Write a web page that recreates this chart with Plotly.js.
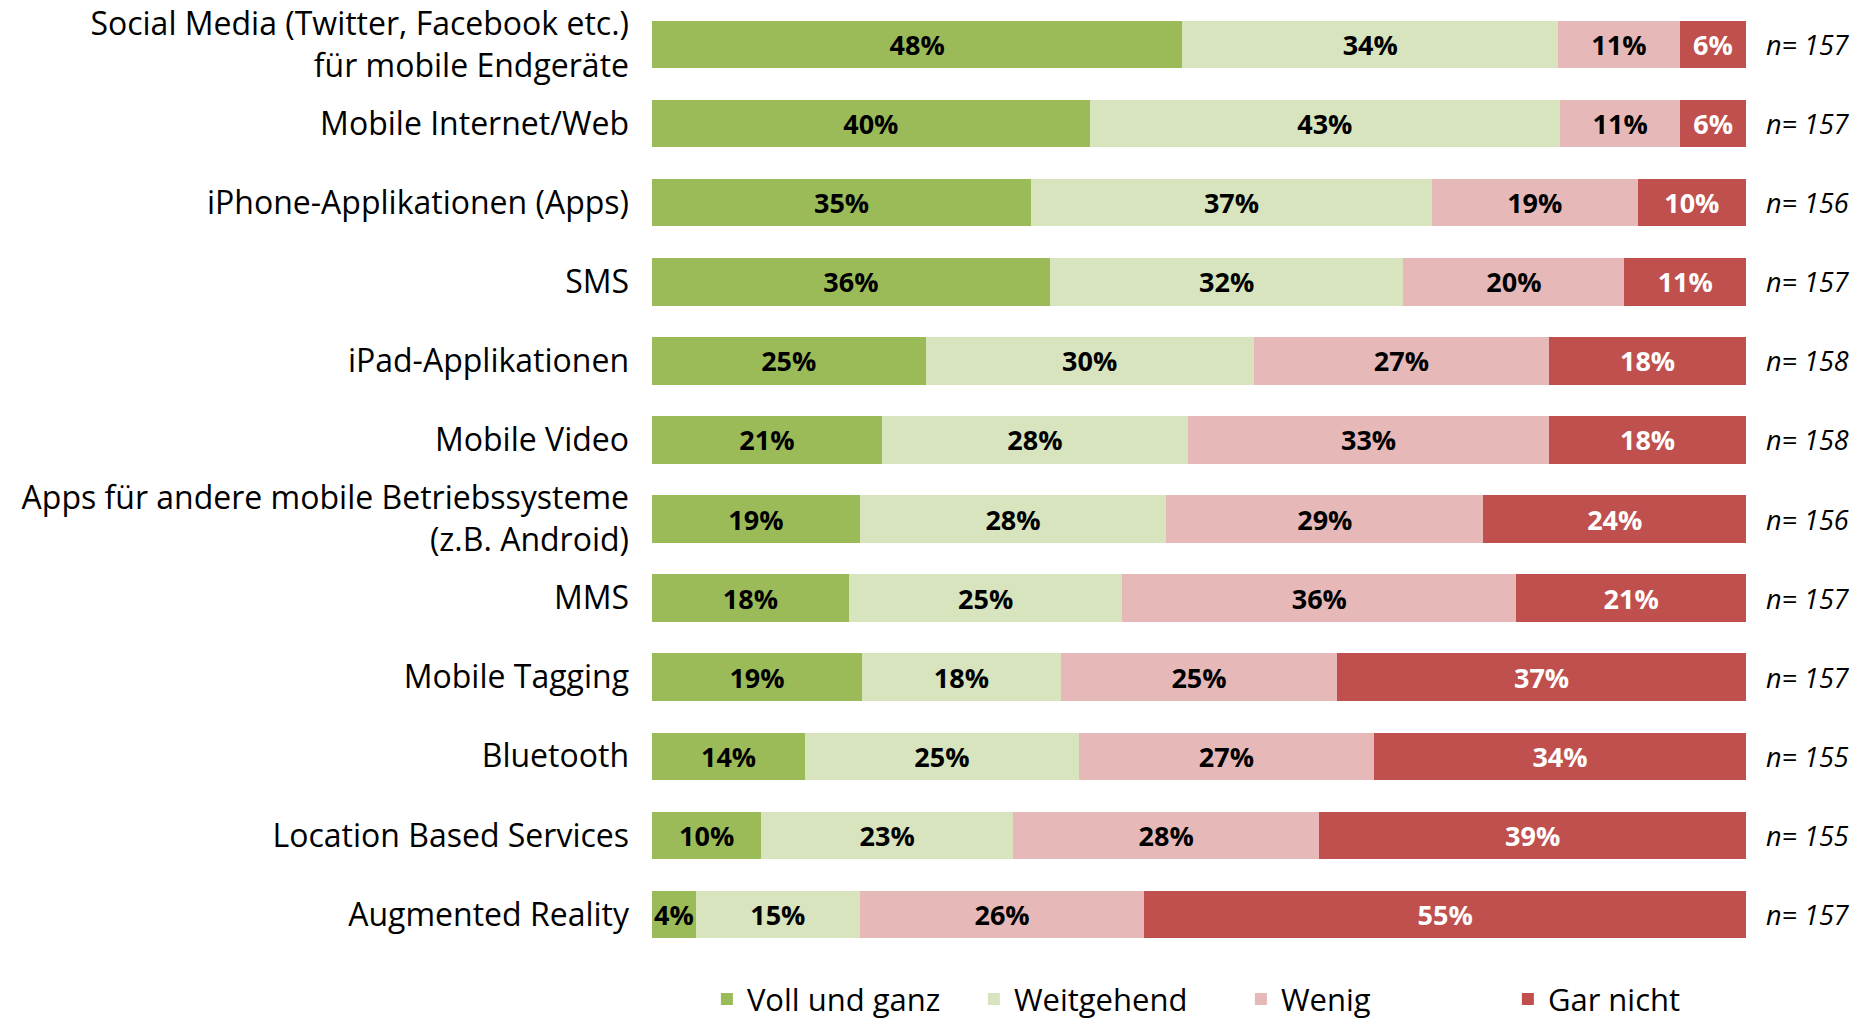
<!DOCTYPE html>
<html>
<head>
<meta charset="utf-8">
<script src="https://cdn.plot.ly/plotly-3.0.1.min.js"></script>
<style>
  html, body { margin: 0; padding: 0; background: #fff; }
  #chart { width: 1875px; height: 1024px; }
</style>
</head>
<body>
<div id="chart"></div>
<script>
document.addEventListener("DOMContentLoaded", function () {

  const categories = [
    'Social Media (Twitter, Facebook etc.)<br>für mobile Endgeräte',
    'Mobile Internet/Web',
    'iPhone-Applikationen (Apps)',
    'SMS',
    'iPad-Applikationen',
    'Mobile Video',
    'Apps für andere mobile Betriebssysteme<br>(z.B. Android)',
    'MMS',
    'Mobile Tagging',
    'Bluetooth',
    'Location Based Services',
    'Augmented Reality'
  ];

  const vollUndGanz = [48, 40, 35, 36, 25, 21, 19, 18, 19, 14, 10, 4];
  const weitgehend  = [34, 43, 37, 32, 30, 28, 28, 25, 18, 25, 23, 15];
  const wenig       = [11, 11, 19, 20, 27, 33, 29, 36, 25, 27, 28, 26];
  const garNicht    = [6, 6, 10, 11, 18, 18, 24, 21, 37, 34, 39, 55];

  const sampleSizes = [157, 157, 156, 157, 158, 158, 156, 157, 157, 155, 155, 157];

  const seriesNames = ['Voll und ganz', 'Weitgehend', 'Wenig', 'Gar nicht'];
  const seriesValues = [vollUndGanz, weitgehend, wenig, garNicht];
  const colors = ['#9BBB59', '#D7E4BD', '#E6B9B8', '#C0504D'];
  const textColors = ['#000000', '#000000', '#000000', '#FFFFFF'];

  const labelFont = 'Open Sans, Noto Sans, sans-serif';

  const data = seriesValues.map(function (vals, i) {
    return {
      type: 'bar',
      orientation: 'h',
      name: seriesNames[i],
      y: categories,
      x: vals,
      text: vals.map(function (v) { return v + '%'; }),
      textposition: 'inside',
      insidetextanchor: 'middle',
      textangle: 0,
      constraintext: 'none',
      textfont: { family: labelFont, size: 27, color: textColors[i], weight: 'bold' },
      marker: { color: colors[i], line: { width: 0 } },
      hoverinfo: 'name+x'
    };
  });

  const annotations = categories.map(function (c, i) {
    return {
      xref: 'paper', yref: 'y',
      x: 1, y: c,
      xanchor: 'left', yanchor: 'middle',
      xshift: 18,
      text: '<i>n= ' + sampleSizes[i] + '</i>',
      showarrow: false,
      font: { family: labelFont, size: 27, color: '#000' }
    };
  });

  const layout = {
    width: 1875,
    height: 1024,
    paper_bgcolor: '#fff',
    plot_bgcolor: '#fff',
    barmode: 'stack',
    barnorm: 'percent',
    bargap: 0.4,
    margin: { l: 652, r: 129, t: 5, b: 70 },
    showlegend: true,
    legend: {
      orientation: 'h',
      xref: 'container', yref: 'container',
      x: 0.377, xanchor: 'left',
      y: 0.024, yanchor: 'middle',
      traceorder: 'normal',
      font: { family: labelFont, size: 31, color: '#000' },
      entrywidth: 222,
      entrywidthmode: 'pixels'
    },
    xaxis: {
      range: [0, 100],
      showgrid: false, zeroline: false, showticklabels: false,
      showline: false, fixedrange: true
    },
    yaxis: {
      autorange: 'reversed',
      showgrid: false, zeroline: false, showline: false,
      ticks: '',
      ticklabelstandoff: 22,
      tickfont: { family: labelFont, size: 32, color: '#000' },
      automargin: false,
      fixedrange: true
    },
    annotations: annotations,
    font: { family: labelFont, color: '#000' }
  };

  Plotly.newPlot('chart', data, layout, { displayModeBar: false, staticPlot: true });

});
</script>
</body>
</html>
